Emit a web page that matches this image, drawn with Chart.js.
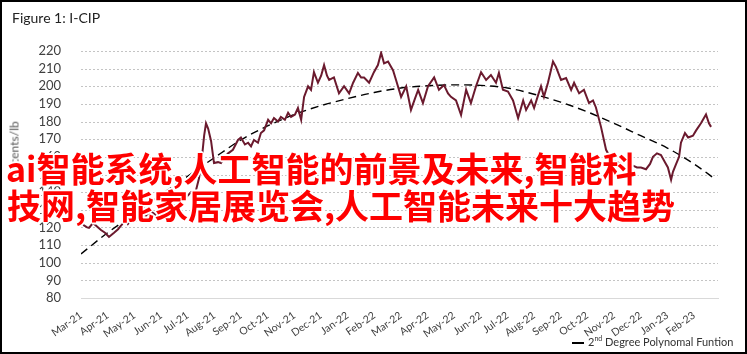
<!DOCTYPE html>
<html>
<head>
<meta charset="utf-8">
<script src="https://cdn.jsdelivr.net/npm/chart.js@4"></script>
<style>
    body { margin: 0; background: #fff; }
    #frame {
        position: relative; width: 747px; height: 354px; box-sizing: border-box;
        border: 2px solid #000; background: #fff; overflow: hidden;
        font-family: Lato, "Open Sans", sans-serif;
    }
    #title { position: absolute; left: 10px; top: 7px; font-size: 14px; color: #222; }
    #ytitle {
        position: absolute; left: 12px; top: 150px; font-size: 12px; color: #555;
        transform: translate(-50%, -50%) rotate(-90deg); white-space: nowrap;
    }
    #wrap { position: absolute; left: 0; top: 0; width: 743px; height: 350px; }
    #legend { position: absolute; left: 570px; top: 332px; font-size: 11px; color: #333; white-space: nowrap; }
    #legend .dash { display: inline-block; width: 12px; border-top: 2px dashed #000; vertical-align: middle; margin-right: 4px; }
    #legend sup { font-size: 7px; }
    .overlay {
        position: absolute; font-family: "Noto Sans CJK SC", sans-serif; font-weight: bold;
        font-size: 34px; color: #ff0000; white-space: nowrap; line-height: 1;
        text-shadow: 2px 0 #fff, -2px 0 #fff, 0 2px #fff, 0 -2px #fff,
                     1px 1px #fff, -1px -1px #fff, 1px -1px #fff, -1px 1px #fff;
    }
</style>
</head>
<body>
<div id="frame">
    <div id="wrap"><canvas id="chart"></canvas></div>
    <div id="title">Figure 1: I-CIP</div>
    <div id="ytitle">US cents/lb</div>
    <div id="legend"><span class="dash"></span>2<sup>nd</sup> Degree Polynomal Funtion</div>
    <div class="overlay" style="left:4px; top:149px;">ai智能系统,人工智能的前景及未来,智能科</div>
    <div class="overlay" style="left:5px; top:186px;">技网,智能家居展览会,人工智能未来十大趋势</div>
</div>
<script>
// month ticks (x = months since Mar-21)
const monthLabels = ['Mar-21', 'Apr-21', 'May-21', 'Jun-21', 'Jul-21', 'Aug-21', 'Sep-21', 'Oct-21',
    'Nov-21', 'Dec-21', 'Jan-22', 'Feb-22', 'Mar-22', 'Apr-22', 'May-22', 'Jun-22', 'Jul-22', 'Aug-22',
    'Sep-22', 'Oct-22', 'Nov-22', 'Dec-22', 'Jan-23', 'Feb-23'];
const yTicks = [80, 90, 100, 110, 120, 130, 140, 150, 160, 170, 180, 190, 200, 210, 220];

// I-CIP price, US cents/lb
const icipX = [0.08, 0.23, 0.30, 0.45, 0.60, 0.75, 0.90, 1.05, 1.16, 1.24, 1.39, 1.50, 1.69, 1.76, 1.91,
    2.06, 2.25, 2.44, 2.63, 2.81, 3.00, 3.19, 3.38, 3.56, 3.75, 3.94, 4.13, 4.28, 4.43, 4.54, 4.62, 4.69,
    4.77, 4.88, 4.99, 5.14, 5.25, 5.40, 5.52, 5.70, 5.89, 6.00, 6.15, 6.27, 6.38, 6.49, 6.64, 6.75, 6.87,
    7.02, 7.13, 7.24, 7.39, 7.50, 7.65, 7.77, 7.88, 8.03, 8.14, 8.26, 8.37, 8.52, 8.63, 8.74, 8.89, 9.01,
    9.12, 9.23, 9.31, 9.49, 9.68, 9.87, 10.06, 10.21, 10.39, 10.51, 10.62, 10.81, 10.99, 11.14, 11.26,
    11.37, 11.52, 11.71, 11.82, 12.01, 12.20, 12.38, 12.53, 12.65, 12.83, 13.02, 13.25, 13.43, 13.62,
    13.77, 13.88, 14.07, 14.26, 14.45, 14.63, 14.82, 15.01, 15.20, 15.38, 15.57, 15.68, 15.83, 16.02,
    16.21, 16.40, 16.59, 16.70, 16.89, 17.00, 17.15, 17.26, 17.37, 17.52, 17.71, 17.82, 18.01, 18.20,
    18.39, 18.50, 18.69, 18.87, 19.06, 19.21, 19.32, 19.51, 19.70, 19.81, 19.96, 20.11, 20.26, 20.41,
    20.56, 20.71, 20.86, 21.01, 21.20, 21.35, 21.46, 21.61, 21.76, 21.91, 22.02, 22.14, 22.21, 22.33,
    22.44, 22.51, 22.66, 22.78, 22.96, 23.08, 23.26, 23.45, 23.56, 23.64, 23.75, 23.86];
const icipValues = [121.4, 120, 119.7, 122.5, 120.5, 118.5, 117, 114.6, 116, 117, 119, 121, 124, 122, 125,
    124, 127, 126.5, 129, 127, 131, 130, 133, 132, 136, 137, 140, 139, 148, 160, 172, 179,
    176, 169, 156.5, 157, 156.5, 160, 162, 164, 169.6, 171, 167, 168, 166, 169.6, 168, 173.5, 175,
    181, 179, 182, 180, 182.6, 181, 185, 182.6, 184, 187.7, 181, 194, 200, 198, 208, 202, 206,
    212, 206, 203.6, 205, 196, 200, 196, 202, 207.6, 205, 205, 202, 208, 212, 219,
    213, 214, 209, 203.6, 194, 200, 186.6, 193, 198, 190.5, 200, 205, 198, 200.7,
    196, 194, 192, 183.7, 198, 190.5, 200, 208, 203.6, 206.4, 202, 207.6, 198, 197,
    192, 182, 192, 186.6, 192, 187.7, 195, 200, 194, 202, 214, 211, 203.6, 204.7,
    198, 202, 196, 198, 190.5, 192, 188, 177, 164, 161, 158, 157, 156, 153,
    152.6, 155, 154, 154, 153, 156, 160, 162, 161, 157, 154, 147,
    151.5, 156, 160, 168, 173.5, 171, 172, 175, 179, 184, 179, 177];

// 2nd degree polynomial trend
const trendX = [0, 1, 2, 3, 4, 5, 6, 7, 8, 9, 10, 11, 12, 13, 14, 15, 16, 17, 18, 19, 20, 21, 22, 23, 23.83];
const trendValues = [105, 117, 127.5, 138.5, 149, 159.5, 169.6, 177.5, 184, 189, 193, 196.5, 199, 200.3,
    200.8, 200.5, 199, 195.5, 191, 185.5, 179, 172, 165, 156, 147];

const toPoints = (xs, ys) => xs.map((x, i) => ({ x: x, y: ys[i] }));

// dotted horizontal grid lines, drawn under the data
const dottedGrid = {
    id: 'dottedGrid',
    beforeDatasetsDraw(chart) {
        const { ctx, chartArea, scales } = chart;
        ctx.save();
        ctx.strokeStyle = '#c4c4c4';
        ctx.lineWidth = 1;
        ctx.setLineDash([2, 2]);
        yTicks.forEach(v => {
            if (v === 80) return;
            const y = Math.round(scales.y.getPixelForValue(v)) + 0.5;
            ctx.beginPath();
            ctx.moveTo(chartArea.left, y);
            ctx.lineTo(chartArea.right, y);
            ctx.stroke();
        });
        ctx.restore();
    }
};

const ctx = document.getElementById('chart').getContext('2d');
new Chart(ctx, {
    type: 'line',
    data: {
        datasets: [
            {
                label: 'I-CIP',
                data: toPoints(icipX, icipValues),
                borderColor: '#6b1a2e',
                borderWidth: 2,
                pointRadius: 0,
                tension: 0
            },
            {
                label: '2nd Degree Polynomal Funtion',
                data: toPoints(trendX, trendValues),
                borderColor: '#000',
                borderWidth: 1.4,
                borderDash: [8, 5],
                pointRadius: 0,
                cubicInterpolationMode: 'monotone'
            }
        ]
    },
    options: {
        responsive: true,
        maintainAspectRatio: false,
        animation: false,
        layout: { padding: { top: 49, right: 27, bottom: 0, left: 0 } },
        plugins: { legend: { display: false }, tooltip: { enabled: false } },
        scales: {
            x: {
                type: 'linear',
                min: 0,
                max: 23.9,
                afterBuildTicks: scale => { scale.ticks = monthLabels.map((l, i) => ({ value: i })); },
                afterFit: scale => { scale.height = 54; },
                grid: { display: false },
                border: { display: true, color: '#d9d9d9', width: 1 },
                ticks: {
                    autoSkip: false,
                    minRotation: 35,
                    maxRotation: 35,
                    padding: 3,
                    color: '#404040',
                    font: { family: 'Lato', size: 10.5 },
                    callback: v => monthLabels[v]
                }
            },
            y: {
                min: 80,
                max: 220,
                afterBuildTicks: scale => { scale.ticks = yTicks.map(v => ({ value: v })); },
                afterFit: scale => { scale.width = 79; },
                grid: { display: false },
                border: { display: false },
                ticks: {
                    autoSkip: false,
                    padding: 12,
                    color: '#404040',
                    font: { family: 'Lato', size: 13 }
                }
            }
        }
    },
    plugins: [dottedGrid]
});
</script>
</body>
</html>
